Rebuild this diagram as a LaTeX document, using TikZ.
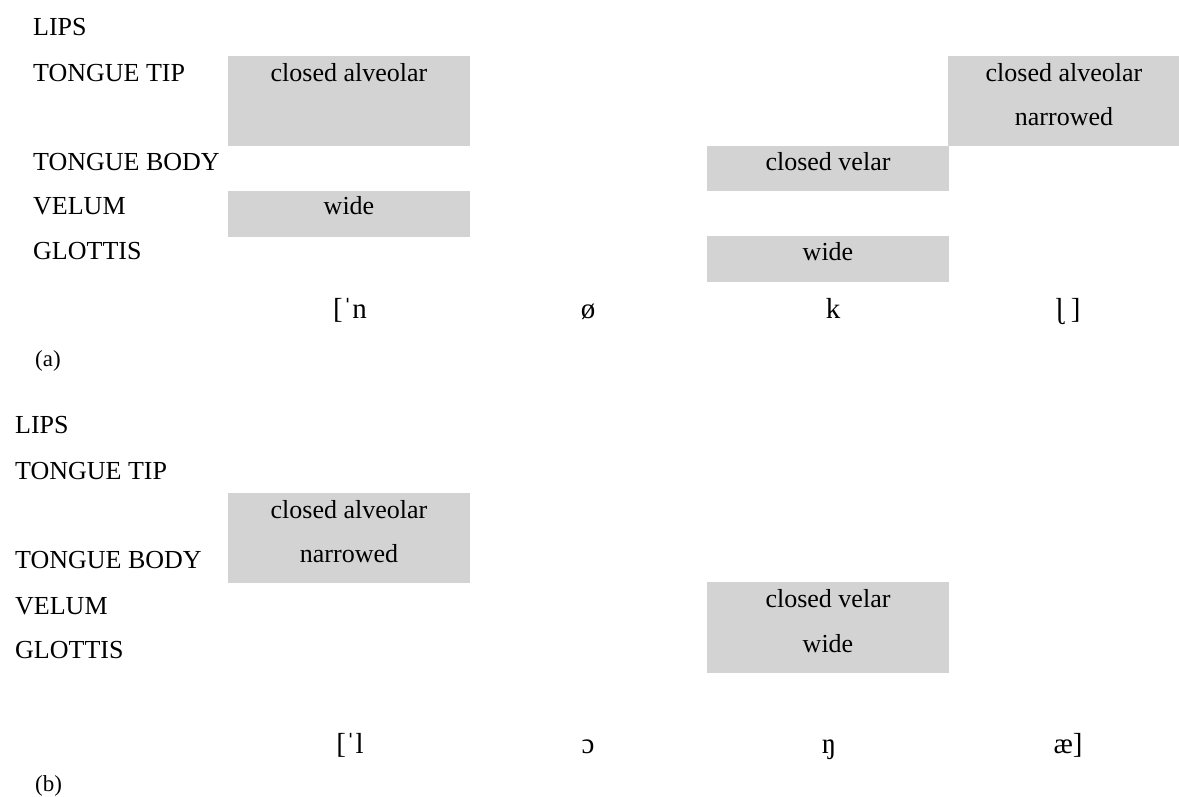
\documentclass[tikz,border=0pt]{standalone}
\usepackage{fontspec}
\setmainfont{Liberation Serif}
\definecolor{boxgray}{RGB}{211,211,211}
\begin{document}
\begin{tikzpicture}[x=1pt,y=-1pt,
  lab/.style={anchor=base west,inner sep=0pt,font=\fontsize{26}{30}\selectfont},
  txt/.style={anchor=base,inner sep=0pt,font=\fontsize{26}{30}\selectfont},
  ipa/.style={anchor=base,inner sep=0pt,font=\fontsize{29}{33}\selectfont},
  panellabel/.style={anchor=base west,inner sep=0pt,font=\fontsize{23}{27}\selectfont},
  gbox/.style={fill=boxgray,draw=none,inner sep=0pt,anchor=north west}]
\useasboundingbox (0,0) rectangle (1179,796);

% ---------- panel (a) ----------
\node[lab] (aLips) at (33,35) {LIPS};
\node[lab] (aTip) at (33,81) {TONGUE TIP};
\node[lab] (aBody) at (33,170) {TONGUE BODY};
\node[lab] (aVel) at (33,214) {VELUM};
\node[lab] (aGlo) at (33,259) {GLOTTIS};

\node[gbox,minimum width=242pt,minimum height=90pt] (aB1) at (228,56) {};
\node[gbox,minimum width=242pt,minimum height=46pt] (aB2) at (228,191) {};
\node[gbox,minimum width=242pt,minimum height=45pt] (aB3) at (707,146) {};
\node[gbox,minimum width=242pt,minimum height=46pt] (aB4) at (707,236) {};
\node[gbox,minimum width=231pt,minimum height=90pt] (aB5) at (948,56) {};

\node[txt] (aT1) at (349,81) {closed alveolar};
\node[txt] (aT2) at (349,214) {wide};
\node[txt] (aT3) at (828,170) {closed velar};
\node[txt] (aT4) at (828,260) {wide};
\node[txt] (aT5) at (1064,81) {closed alveolar};
\node[txt] (aT6) at (1064,125) {narrowed};

\node[ipa] (aS1) at (350,318) {[ˈn};
\node[ipa] (aS2) at (588,318) {ø};
\node[ipa] (aS3) at (833,318) {k};
\node[ipa] (aS4) at (1068,318) {ɭ ]};

\node[panellabel] (aCap) at (35,366) {(a)};

% ---------- panel (b) ----------
\node[lab] (bLips) at (15,433) {LIPS};
\node[lab] (bTip) at (15,479) {TONGUE TIP};
\node[lab] (bBody) at (15,568) {TONGUE BODY};
\node[lab] (bVel) at (15,614) {VELUM};
\node[lab] (bGlo) at (15,658) {GLOTTIS};

\node[gbox,minimum width=242pt,minimum height=90pt] (bB1) at (228,493) {};
\node[gbox,minimum width=242pt,minimum height=91pt] (bB2) at (707,582) {};

\node[txt] (bT1) at (349,518) {closed alveolar};
\node[txt] (bT2) at (349,562) {narrowed};
\node[txt] (bT3) at (828,607) {closed velar};
\node[txt] (bT4) at (828,652) {wide};

\node[ipa] (bS1) at (350,753) {[ˈl};
\node[ipa] (bS2) at (588,753) {ɔ};
\node[ipa] (bS3) at (829,753) {ŋ};
\node[ipa] (bS4) at (1068,753) {æ]};

\node[panellabel] (bCap) at (35,791) {(b)};
\end{tikzpicture}
\end{document}
